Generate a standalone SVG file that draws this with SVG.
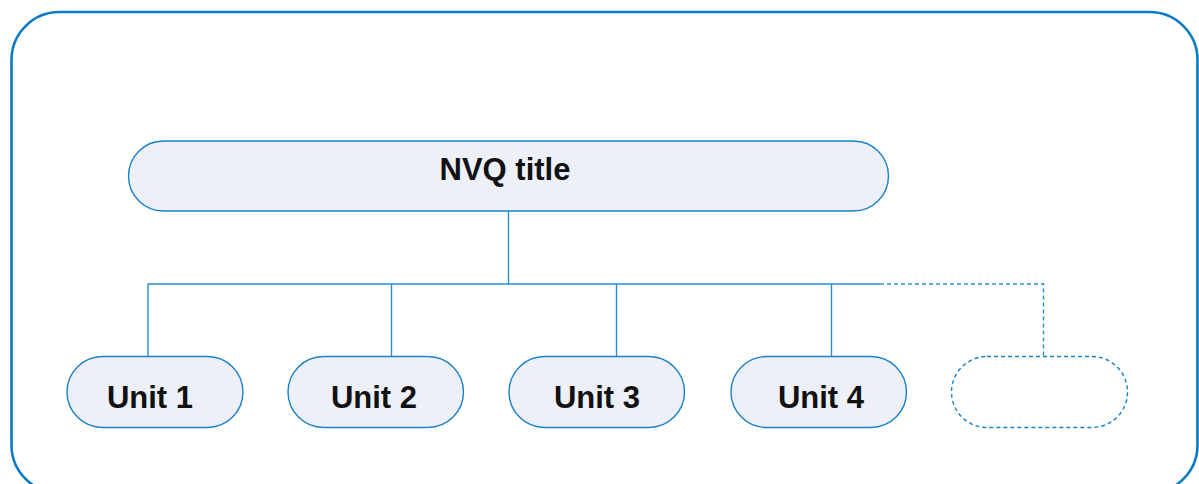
<svg xmlns="http://www.w3.org/2000/svg" width="1199" height="484" viewBox="0 0 1199 484">
  <style>
    .frame { fill: #ffffff; stroke: #0b7bc4; stroke-width: 2.6; }
    .node { fill: #edf0f8; stroke: #1a80c8; stroke-width: 1.4; }
    .ghost { fill: #ffffff; stroke: #1a80c8; stroke-width: 1.4; stroke-dasharray: 4 3; }
    .link { fill: none; stroke: #2a8fd0; stroke-width: 1.4; }
    .link-dash { fill: none; stroke: #2a8fd0; stroke-width: 1.4; stroke-dasharray: 4 3; }
    .label { font-family: "Liberation Sans", Arial, sans-serif; font-weight: bold; font-size: 31px; fill: #111111; text-anchor: middle; }
  </style>

  <!-- outer frame -->
  <rect class="frame" x="11.5" y="12" width="1186" height="481" rx="48" ry="48"/>

  <!-- connectors -->
  <g id="connectors">
    <line class="link" x1="508.5" y1="211" x2="508.5" y2="284"/>
    <polyline class="link" points="148,356 148,284 880,284"/>
    <line class="link" x1="391.5" y1="284" x2="391.5" y2="356"/>
    <line class="link" x1="616.5" y1="284" x2="616.5" y2="356"/>
    <line class="link" x1="831.5" y1="284" x2="831.5" y2="356"/>
    <polyline class="link-dash" points="880,284 1043.5,284 1043.5,356"/>
  </g>

  <g id="nvq-title">
    <rect class="node" x="128.5" y="141" width="760" height="70" rx="35" ry="35"/>
    <text class="label" x="505" y="180">NVQ title</text>
  </g>

  <g id="unit-1">
    <rect class="node" x="67" y="356.5" width="176" height="71" rx="35.5" ry="35.5"/>
    <text class="label" x="150" y="408">Unit 1</text>
  </g>

  <g id="unit-2">
    <rect class="node" x="288" y="356.5" width="175.5" height="71" rx="35.5" ry="35.5"/>
    <text class="label" x="374" y="408">Unit 2</text>
  </g>

  <g id="unit-3">
    <rect class="node" x="509" y="356.5" width="175.5" height="71" rx="35.5" ry="35.5"/>
    <text class="label" x="597" y="408">Unit 3</text>
  </g>

  <g id="unit-4">
    <rect class="node" x="731" y="356.5" width="175.5" height="71" rx="35.5" ry="35.5"/>
    <text class="label" x="821" y="408">Unit 4</text>
  </g>

  <g id="unit-more">
    <rect class="ghost" x="951.5" y="356.5" width="176" height="71" rx="35.5" ry="35.5"/>
  </g>
</svg>
